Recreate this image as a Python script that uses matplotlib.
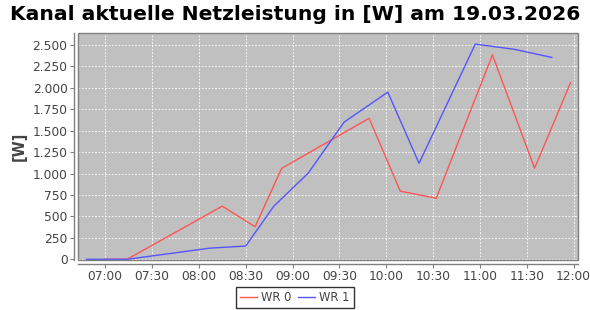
import matplotlib
matplotlib.use("Agg")
import matplotlib.pyplot as plt
import matplotlib.dates as mdates
from matplotlib.ticker import FuncFormatter, MultipleLocator
from matplotlib.patches import Rectangle
import pandas as pd

title = "Kanal aktuelle Netzleistung in [W] am 19.03.2026"
day = "2026-03-19"
series_names = ["WR 0", "WR 1"]

wr0_times = ["07:00", "07:14", "08:15", "08:36", "08:53", "09:49", "10:09", "10:32", "11:08", "11:35", "11:58"]
wr0_vals = [0, 0, 620, 380, 1060, 1645, 795, 712, 2385, 1062, 2060]

wr1_times = ["06:48", "07:14", "08:07", "08:30", "08:48", "09:10", "09:33", "10:01", "10:21", "10:57", "11:22", "11:46"]
wr1_vals = [0, 0, 130, 155, 620, 1005, 1600, 1950, 1120, 2510, 2450, 2355]

def to_dt(ts):
    return pd.to_datetime([f"{day} {t}" for t in ts])

fig = plt.figure(figsize=(5.9, 3.1), dpi=100)
fig.patch.set_facecolor("white")
ax = fig.add_axes([78/590, 50/310, 500/590, 227/310])
ax.set_facecolor("#c0c0c0")

ax.plot(to_dt(wr0_times), wr0_vals, color="#ff5555", lw=1.0, label=series_names[0])
ax.plot(to_dt(wr1_times), wr1_vals, color="#5555ff", lw=1.0, label=series_names[1])

ax.set_xlim(pd.Timestamp(f"{day} 06:42:36"), pd.Timestamp(f"{day} 12:02:48"))
ax.set_ylim(-8, 2640)

ax.xaxis.set_major_locator(mdates.MinuteLocator(byminute=[0, 30]))
ax.xaxis.set_major_formatter(mdates.DateFormatter("%H:%M"))
ax.yaxis.set_major_locator(MultipleLocator(250))
ax.yaxis.set_major_formatter(FuncFormatter(lambda v, p: f"{int(round(v)):,}".replace(",", ".")))

ax.grid(True, color="white", linestyle=(0, (2, 2)), lw=0.6)
ax.set_axisbelow(True)

for s in ["top", "right"]:
    ax.spines[s].set_visible(False)
for s in ["left", "bottom"]:
    ax.spines[s].set_position(("outward", 3))
    ax.spines[s].set_color("#808080")
    ax.spines[s].set_linewidth(1.0)
ax.add_patch(Rectangle((0, 0), 1, 1, transform=ax.transAxes, fill=False,
                       edgecolor="#808080", lw=1.0, clip_on=False, zorder=5))

ax.tick_params(axis="both", colors="#808080", labelcolor="#444444", labelsize=8.8,
               length=3, width=0.8, pad=1.5)

ax.set_ylabel("[W]", fontsize=10.5, fontweight="bold", color="#444444", labelpad=4)
fig.text(0.5, 1 - 14/310, title, ha="center", va="center", fontsize=14.6, fontweight="bold", color="black")

leg = fig.legend(loc="lower center", bbox_to_anchor=(0.5, 2/310), ncol=2, fontsize=8.3,
                 frameon=True, fancybox=False, edgecolor="black", handlelength=1.4,
                 handletextpad=0.4, columnspacing=0.6, borderpad=0.35, borderaxespad=0)
leg.get_frame().set_linewidth(1.0)
for t in leg.get_texts():
    t.set_color("#444444")

fig.savefig("out.png", dpi=100)
